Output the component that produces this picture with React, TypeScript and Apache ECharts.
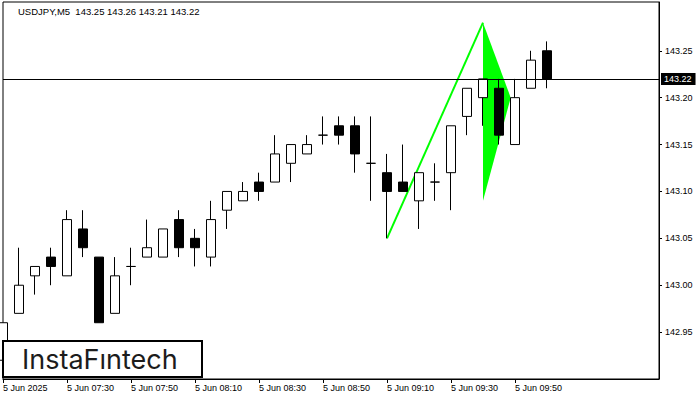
import React, { useEffect, useRef } from "react";
import * as echarts from "echarts";

const symbol = "USDJPY";
const timeframe = "M5";
const dateLabel = "5 Jun";
const firstLabel = "5 Jun 2025";

const times = [
  "07:10", "07:15", "07:20", "07:25", "07:30", "07:35", "07:40", "07:45",
  "07:50", "07:55", "08:00", "08:05", "08:10", "08:15", "08:20", "08:25",
  "08:30", "08:35", "08:40", "08:45", "08:50", "08:55", "09:00", "09:05",
  "09:10", "09:15", "09:20", "09:25", "09:30", "09:35", "09:40", "09:45",
  "09:50", "09:55", "10:00",
];
const futureTimes = ["10:05", "10:10", "10:15", "10:20", "10:25", "10:30", "10:35"];

const opens = [
  142.92, 142.97, 143.01, 143.03, 143.01, 143.06, 143.03, 142.97,
  143.02, 143.03, 143.03, 143.07, 143.05, 143.03, 143.08, 143.09,
  143.11, 143.11, 143.13, 143.14, 143.16, 143.17, 143.17, 143.13,
  143.12, 143.11, 143.09, 143.11, 143.12, 143.18, 143.20, 143.21,
  143.15, 143.21, 143.25,
];
const closes = [
  142.96, 143.00, 143.02, 143.02, 143.07, 143.04, 142.96, 143.01,
  143.02, 143.04, 143.06, 143.04, 143.04, 143.07, 143.10, 143.10,
  143.10, 143.14, 143.15, 143.15, 143.16, 143.16, 143.14, 143.13,
  143.10, 143.10, 143.12, 143.11, 143.17, 143.21, 143.22, 143.16,
  143.20, 143.24, 143.22,
];
const lows = [
  142.91, 142.97, 142.99, 143.00, 143.01, 143.03, 142.96, 142.97,
  143.00, 143.03, 143.03, 143.03, 143.02, 143.02, 143.06, 143.09,
  143.09, 143.11, 143.11, 143.14, 143.15, 143.15, 143.12, 143.09,
  143.05, 143.10, 143.06, 143.09, 143.08, 143.16, 143.17, 143.15,
  143.15, 143.21, 143.21,
];
const highs = [
  142.96, 143.04, 143.02, 143.04, 143.08, 143.08, 143.03, 143.03,
  143.04, 143.07, 143.06, 143.08, 143.06, 143.09, 143.10, 143.11,
  143.12, 143.16, 143.15, 143.16, 143.18, 143.18, 143.18, 143.18,
  143.14, 143.15, 143.12, 143.13, 143.17, 143.21, 143.22, 143.22,
  143.22, 143.25, 143.26,
];

const priceTicks = [142.95, 143.0, 143.05, 143.1, 143.15, 143.2, 143.25];
const priceMin = 142.9;
const priceMax = 143.302;

// Bullish pennant pattern (index on x, price on y)
const poleStart = [24, 143.05];
const poleEnd = [30, 143.28];
const pennant = [
  [30, 143.28],
  [30, 143.09],
  [31.73, 143.2],
];

const FONT = '"Liberation Sans", Arial, sans-serif';

export default function App() {
  const ref = useRef<HTMLDivElement>(null);

  useEffect(() => {
    if (!ref.current) return;
    const chart = echarts.init(ref.current, undefined, { renderer: "svg" });
    const categories = times.concat(futureTimes);
    const candles = opens.map((o, i) => [o, closes[i], lows[i], highs[i]]);
    const last = opens.length - 1;
    const header = `${symbol},${timeframe}  ${opens[last].toFixed(2)} ${highs[last].toFixed(2)} ${lows[last].toFixed(2)} ${closes[last].toFixed(2)}`;
    const shown = (index: number) => index % 4 === 0 && index < times.length;

    chart.setOption({
      animation: false,
      backgroundColor: "#ffffff",
      grid: {
        left: 3,
        right: 41,
        top: 2,
        bottom: 21,
        show: true,
        borderColor: "#000",
        borderWidth: 1,
        backgroundColor: "#fff",
      },
      xAxis: {
        type: "category",
        data: categories,
        boundaryGap: false,
        axisLine: { show: true, lineStyle: { color: "#000", width: 1 } },
        axisTick: {
          show: true,
          length: 4,
          interval: (index: number) => shown(index),
          lineStyle: { color: "#000" },
        },
        axisLabel: {
          interval: (index: number) => shown(index),
          formatter: (value: string, index: number) =>
            index === 0 ? firstLabel : `${dateLabel} ${value}`,
          align: "left",
          margin: 4,
          color: "#000",
          fontSize: 9,
          fontFamily: FONT,
        },
        splitLine: { show: false },
      },
      yAxis: {
        type: "value",
        position: "right",
        min: priceMin,
        max: priceMax,
        axisLine: { show: true, lineStyle: { color: "#000", width: 1 } },
        axisTick: {
          show: true,
          length: 3,
          customValues: priceTicks,
          lineStyle: { color: "#000" },
        },
        axisLabel: {
          customValues: priceTicks,
          formatter: (v: number) => v.toFixed(2),
          margin: 6,
          color: "#000",
          fontSize: 9,
          fontFamily: FONT,
        },
        splitLine: { show: false },
      },
      series: [
        {
          type: "custom",
          z: 1,
          silent: true,
          data: [[0, priceMin]],
          renderItem: (params: any, api: any) => {
            const pt = (p: number[]) => {
              const i0 = Math.floor(p[0]);
              const a = api.coord([i0, p[1]]);
              const b = api.coord([i0 + 1, p[1]]);
              return [a[0] + (p[0] - i0) * (b[0] - a[0]), a[1]];
            };
            const s = pt(poleStart);
            const e = pt(poleEnd);
            return {
              type: "group",
              children: [
                {
                  type: "polygon",
                  shape: { points: pennant.map(pt) },
                  style: { fill: "#00ff00" },
                },
                {
                  type: "line",
                  shape: { x1: s[0], y1: s[1], x2: e[0], y2: e[1] },
                  style: { stroke: "#00ff00", lineWidth: 2 },
                },
              ],
            };
          },
        },
        {
          type: "candlestick",
          z: 2,
          barWidth: 10,
          silent: true,
          data: candles,
          itemStyle: {
            color: "#ffffff",
            color0: "#000000",
            borderColor: "#000000",
            borderColor0: "#000000",
            borderColorDoji: "#000000",
            borderWidth: 1,
          },
          markLine: {
            silent: true,
            symbol: ["none", "none"],
            animation: false,
            lineStyle: { color: "#000", width: 1, type: "solid" },
            label: {
              show: true,
              position: "end",
              distance: 2,
              formatter: closes[last].toFixed(2),
              color: "#fff",
              backgroundColor: "#000",
              padding: [2, 4, 1, 3],
              fontSize: 9,
              fontFamily: FONT,
            },
            data: [{ yAxis: closes[last] }],
          },
        },
      ],
      graphic: [
        {
          type: "text",
          x: 18,
          y: 6,
          z: 10,
          style: { text: header, fill: "#000", font: `9.5px ${FONT}` },
        },
        {
          type: "rect",
          z: 10,
          shape: { x: 3, y: 341, width: 199, height: 36 },
          style: { fill: "#fff", stroke: "#000", lineWidth: 2 },
        },
        {
          type: "text",
          z: 11,
          x: 22,
          y: 359,
          style: {
            text: "InstaFıntech",
            fill: "#1c1c1c",
            font: '400 27px Inter, "Noto Sans", sans-serif',
            verticalAlign: "middle",
          },
        },
      ],
    });
    return () => chart.dispose();
  }, []);

  return (
    <div
      ref={ref}
      style={{ position: "fixed", left: 0, top: 0, width: 700, height: 400, background: "#fff" }}
    />
  );
}
